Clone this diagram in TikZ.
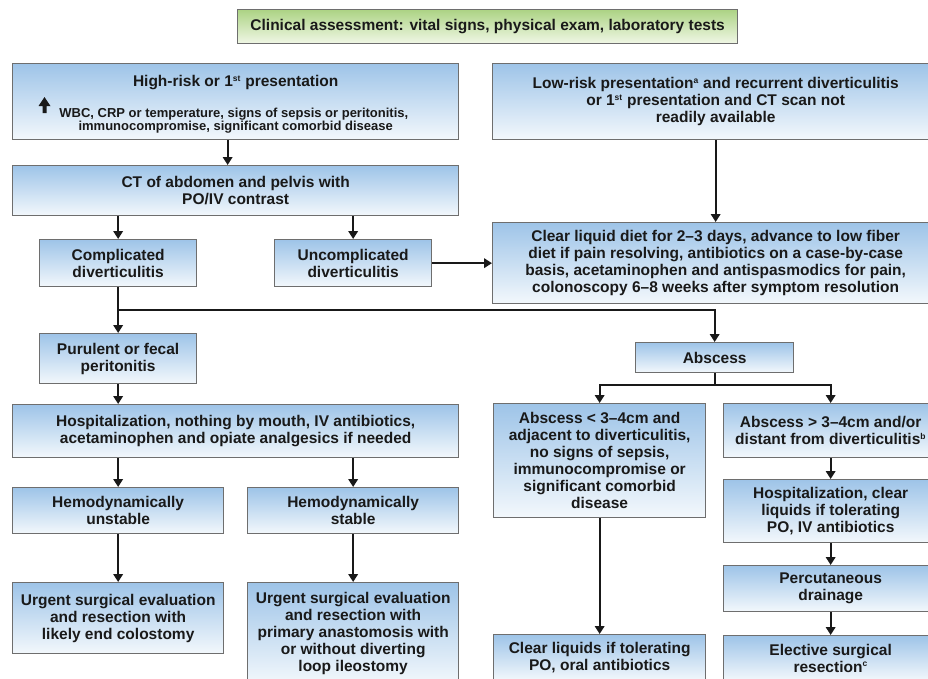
\documentclass[tikz,border=0pt]{standalone}
\usepackage{fontspec}
\setmainfont{Liberation Sans}
\usetikzlibrary{arrows.meta,calc}
\definecolor{bluetop}{RGB}{158,196,232}
\definecolor{bluebot}{RGB}{243,248,252}
\definecolor{greentop}{RGB}{172,211,132}
\definecolor{greenbot}{RGB}{240,247,230}
\definecolor{edge}{RGB}{110,110,110}
\definecolor{ink}{RGB}{25,25,25}
\newcommand\sps[1]{\textsuperscript{\fontsize{8.5}{8.5}\selectfont #1}}
\newcommand\smallfs{\fontsize{13}{12}\selectfont}
\tikzset{
  box/.style={draw=edge, line width=1.3pt, top color=bluetop, bottom color=bluebot,
    anchor=north west, align=center, inner sep=0pt, text=ink,
    font=\bfseries\fontsize{15.5}{17}\selectfont},
  gbox/.style={box, top color=greentop, bottom color=greenbot},
  arr/.style={-{Triangle[length=8pt,width=9.5pt]}, line width=2pt, draw=ink},
  ln/.style={line width=2pt, draw=ink},
}
\begin{document}
\begin{tikzpicture}[x=1pt,y=-1pt]
\clip (0,0) rectangle (928,678);
\fill[white] (0,0) rectangle (928,678);
% boxes
\node[gbox, minimum width=500pt, minimum height=34pt] (top) at (237,9)
  {Clinical assessment: vital signs, physical exam, laboratory tests};
\node[box, minimum width=446pt, minimum height=76pt] (hr) at (12,63)
  {\rule{0pt}{17pt}High-risk or 1\sps{st} presentation\\[14pt]
   {\smallfs\renewcommand\arraystretch{1}\begin{tabular}[t]{@{}c@{}}
   WBC, CRP or temperature, signs of sepsis or peritonitis,\ \ \\
   immunocompromise, significant comorbid disease\end{tabular}}};
\node[box, minimum width=446pt, minimum height=76pt] (lr) at (492,63)
  {Low-risk presentation\sps{a} and recurrent diverticulitis\\
   or 1\sps{st} presentation and CT scan not\\ readily available};
\node[box, minimum width=446pt, minimum height=50pt] (ct) at (12,165)
  {CT of abdomen and pelvis with\\ PO/IV contrast};
\node[box, minimum width=157pt, minimum height=47pt] (comp) at (39,239)
  {Complicated\\ diverticulitis};
\node[box, minimum width=157pt, minimum height=47pt] (unc) at (274,239)
  {Uncomplicated\\ diverticulitis};
\node[box, minimum width=446pt, minimum height=81pt] (cl) at (492,222)
  {Clear liquid diet for 2--3 days, advance to low fiber\\
   diet if pain resolving, antibiotics on a case-by-case\\
   basis, acetaminophen and antispasmodics for pain,\\
   colonoscopy 6--8 weeks after symptom resolution};
\node[box, minimum width=157pt, minimum height=50pt] (pur) at (39,333)
  {Purulent or fecal\\ peritonitis};
\node[box, minimum width=158pt, minimum height=30pt] (abs) at (635,342)
  {Abscess};
\node[box, minimum width=446pt, minimum height=53pt] (hosp) at (12,404)
  {Hospitalization, nothing by mouth, IV antibiotics,\\
   acetaminophen and opiate analgesics if needed};
\node[box, minimum width=212pt, minimum height=114pt] (as) at (493,403)
  {Abscess < 3--4cm and\\ adjacent to diverticulitis,\\ no signs of sepsis,\\
   immunocompromise or\\ significant comorbid\\ disease};
\node[box, minimum width=214pt, minimum height=54pt] (al) at (723,403)
  {Abscess > 3--4cm and/or\\ distant from diverticulitis\sps{b}};
\node[box, minimum width=214pt, minimum height=63pt] (h2) at (723,479)
  {Hospitalization, clear\\ liquids if tolerating\\ PO, IV antibiotics};
\node[box, minimum width=214pt, minimum height=46pt] (perc) at (723,565)
  {Percutaneous\\ drainage};
\node[box, minimum width=214pt, minimum height=45pt] (elec) at (723,635)
  {Elective surgical\\ resection\sps{c}};
\node[box, minimum width=212pt, minimum height=46pt] (clq) at (493,634)
  {Clear liquids if tolerating\\ PO, oral antibiotics};
\node[box, minimum width=211pt, minimum height=46pt] (hu) at (12,487)
  {Hemodynamically\\ unstable};
\node[box, minimum width=211pt, minimum height=46pt] (hs) at (247,487)
  {Hemodynamically\\ stable};
\node[box, minimum width=211pt, minimum height=71pt] (uu) at (12,582)
  {Urgent surgical evaluation\\ and resection with\\ likely end colostomy};
\node[box, minimum width=211pt, minimum height=102pt] (us) at (247,582)
  {Urgent surgical evaluation\\ and resection with\\ primary anastomosis with\\
   or without diverting\\ loop ileostomy};
% up arrow glyph
\fill[ink] (38.5,106) -- (44.5,97) -- (50.5,106) -- (46.5,106) -- (46.5,113)
  -- (42.5,113) -- (42.5,106) -- cycle;
% connectors
\draw[arr] ([xshift=-8pt]hr.south) -- ([xshift=-8pt]ct.north);
\draw[arr] (ct.south -| comp.north) -- (comp.north);
\draw[arr] (ct.south -| unc.north) -- (unc.north);
\draw[arr] (unc.east) -- (cl.west);
\draw[arr] (lr.south) -- (cl.north);
\coordinate (br) at ($(comp.south)+(0,23)$);
\draw[arr] (comp.south) -- (pur.north);
\draw[arr] (br) -| (abs.north);
\draw[arr] (pur.south) -- (hosp.north -| pur.south);
\draw[arr] (hosp.south -| hu.north) -- (hu.north);
\draw[arr] (hosp.south -| hs.north) -- (hs.north);
\draw[arr] (hu.south) -- (uu.north);
\draw[arr] (hs.south) -- (us.north);
\coordinate (br2) at ($(abs.south)+(0,12)$);
\draw[ln] (abs.south) -- (br2);
\draw[arr] (br2) -| (as.north);
\draw[arr] (br2) -| (al.north);
\draw[arr] (as.south) -- (clq.north);
\draw[arr] (al.south) -- (h2.north);
\draw[arr] (h2.south) -- (perc.north);
\draw[arr] (perc.south) -- (elec.north);
\end{tikzpicture}
\end{document}
